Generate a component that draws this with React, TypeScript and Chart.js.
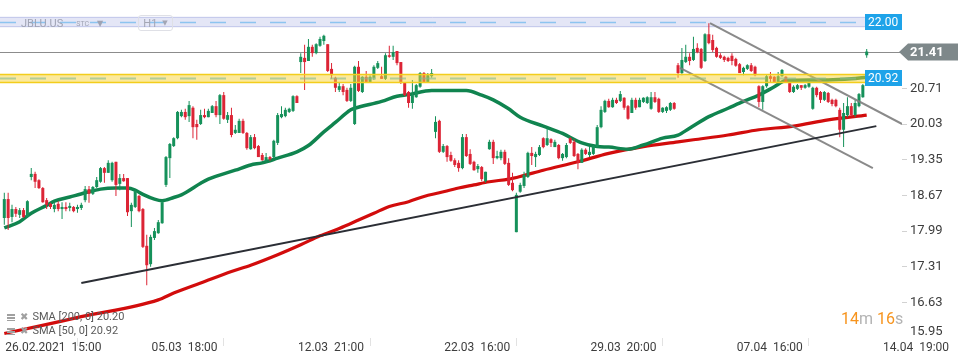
import React, { useEffect, useRef } from "react";
import { Chart, registerables } from "chart.js";

Chart.register(...registerables);

// ---------- candle data (H1) ----------
const OPEN = [
  18.24, 18.60, 18.26, 18.41, 18.30, 18.39, 18.26, 19.02, 19.08, 18.96,
  18.81, 18.58, 18.51, 18.41, 18.51, 18.41, 18.45, 18.43, 18.45, 18.41,
  18.43, 18.58, 18.79, 18.70, 18.83, 18.93, 19.19, 19.10, 18.96, 19.31,
  18.89, 19.00, 19.00, 18.37, 18.45, 18.66, 18.41, 17.71, 17.36, 17.86,
  17.95, 18.14, 18.87, 19.38, 19.61, 19.76, 20.18, 20.26, 20.18, 20.34,
  20.03, 20.03, 20.20, 20.16, 20.24, 20.37, 20.20, 20.58, 20.11, 20.20,
  19.86, 19.86, 20.09, 19.86, 19.55, 19.78, 19.61, 19.44, 19.34, 19.40,
  19.40, 19.67, 20.16, 20.18, 20.26, 20.28, 20.56, 21.21, 21.29, 21.23,
  21.50, 21.38, 21.52, 21.61, 21.55, 21.08, 20.91, 20.68, 20.75, 20.68,
  20.47, 20.03, 21.12, 20.64, 20.93, 20.83, 20.91, 21.10, 20.94, 20.89,
  21.34, 21.31, 21.42, 21.21, 20.81, 20.64, 20.43, 20.54, 20.74, 21.00,
  20.83, 20.94, 19.88, 20.09, 19.50, 19.61, 19.44, 19.34, 19.29, 19.19,
  19.78, 19.46, 19.31, 19.17, 19.21, 18.94, 19.55, 19.69, 19.38, 19.38,
  19.50, 19.29, 18.91, 17.97, 18.74, 18.85, 19.02, 19.48, 19.40, 19.44,
  19.76, 19.63, 19.74, 19.59, 19.63, 19.38, 19.40, 19.76, 19.69, 19.46,
  19.29, 19.54, 19.44, 19.46, 19.59, 19.97, 20.26, 20.47, 20.35, 20.49,
  20.47, 20.53, 20.37, 20.24, 20.49, 20.35, 20.45, 20.43, 20.32, 20.54,
  20.51, 20.26, 20.28, 20.30, 20.43, 21.15, 21.00, 21.21, 21.31, 21.25,
  21.48, 21.46, 21.23, 21.74, 21.63, 21.48, 21.34, 21.31, 21.29, 21.33,
  21.27, 21.17, 21.02, 21.08, 21.15, 21.12, 20.75, 20.45, 20.75, 20.94,
  20.93, 20.83, 20.94, 20.93, 20.81, 20.64, 20.70, 20.77, 20.72, 20.74,
  20.32, 20.72, 20.64, 20.49, 20.62, 20.49, 20.49, 20.30, 19.92, 20.20,
  20.37, 20.20, 20.37, 20.54, 21.34,
];
const HIGH = [
  18.72, 18.72, 18.49, 18.45, 18.43, 18.43, 18.58, 19.19, 19.12, 18.98,
  18.83, 18.62, 18.53, 18.54, 18.56, 18.54, 18.54, 18.53, 18.47, 18.49,
  18.53, 18.85, 18.85, 18.85, 19.02, 19.21, 19.21, 19.34, 19.31, 19.31,
  19.08, 19.08, 19.00, 18.53, 18.77, 18.68, 18.43, 17.92, 17.92, 18.05,
  18.20, 18.56, 19.42, 19.67, 19.78, 20.28, 20.30, 20.32, 20.47, 20.37,
  20.11, 20.30, 20.32, 20.32, 20.39, 20.47, 20.60, 20.64, 20.26, 20.34,
  20.01, 20.13, 20.13, 19.88, 19.82, 19.84, 19.63, 19.48, 19.48, 19.42,
  19.73, 20.24, 20.37, 20.34, 20.34, 20.58, 20.58, 21.38, 21.54, 21.65,
  21.54, 21.57, 21.69, 21.73, 21.55, 21.19, 20.93, 20.81, 20.79, 20.72,
  20.79, 21.14, 21.23, 20.94, 21.04, 20.96, 21.15, 21.23, 21.12, 21.38,
  21.52, 21.52, 21.42, 21.21, 20.83, 20.66, 20.87, 20.79, 21.02, 21.02,
  21.00, 21.08, 20.18, 20.11, 19.65, 19.63, 19.50, 19.38, 19.34, 19.84,
  19.84, 19.55, 19.33, 19.27, 19.23, 19.12, 19.73, 19.73, 19.52, 19.54,
  19.54, 19.38, 19.10, 18.72, 18.91, 19.12, 19.50, 19.59, 19.50, 19.63,
  19.78, 19.95, 19.76, 19.73, 19.65, 19.48, 19.67, 19.78, 19.74, 19.48,
  19.57, 19.57, 19.59, 19.63, 20.01, 20.37, 20.49, 20.51, 20.53, 20.53,
  20.66, 20.54, 20.39, 20.53, 20.53, 20.53, 20.54, 20.56, 20.64, 20.64,
  20.53, 20.35, 20.37, 20.45, 20.45, 21.19, 21.48, 21.54, 21.38, 21.69,
  21.57, 21.48, 21.76, 21.95, 21.73, 21.50, 21.38, 21.33, 21.31, 21.38,
  21.29, 21.19, 21.12, 21.17, 21.19, 21.14, 20.77, 20.77, 20.98, 21.02,
  20.94, 21.02, 21.08, 20.94, 20.81, 20.77, 20.79, 20.77, 20.79, 20.85,
  20.74, 20.74, 20.66, 20.66, 20.64, 20.51, 20.51, 20.34, 20.43, 20.54,
  20.43, 20.49, 20.62, 20.79, 21.46,
];
const LOW = [
  18.11, 18.01, 18.16, 18.26, 18.24, 18.24, 18.24, 18.96, 18.81, 18.79,
  18.53, 18.41, 18.41, 18.35, 18.37, 18.22, 18.37, 18.37, 18.35, 18.34,
  18.39, 18.54, 18.53, 18.68, 18.81, 18.91, 18.91, 19.10, 18.93, 18.66,
  18.77, 18.93, 18.28, 18.07, 18.43, 18.35, 17.67, 16.96, 17.31, 17.82,
  17.94, 18.13, 18.83, 19.00, 19.59, 19.74, 20.16, 20.11, 20.07, 19.76,
  19.73, 20.01, 20.14, 20.16, 20.24, 20.16, 20.03, 20.11, 20.05, 19.78,
  19.84, 19.86, 19.84, 19.54, 19.54, 19.55, 19.40, 19.33, 19.31, 19.33,
  19.38, 19.63, 20.14, 20.16, 20.24, 20.26, 20.43, 21.00, 20.68, 21.23,
  21.31, 21.36, 21.50, 21.54, 21.02, 20.89, 20.64, 20.64, 20.58, 20.45,
  20.45, 20.01, 20.64, 20.62, 20.81, 20.81, 20.87, 21.08, 20.89, 20.87,
  21.29, 21.25, 21.15, 20.79, 20.56, 20.34, 20.32, 20.53, 20.72, 20.81,
  20.81, 20.91, 19.76, 19.48, 19.48, 19.31, 19.31, 19.21, 19.12, 19.17,
  19.40, 19.25, 19.14, 19.10, 18.94, 18.91, 19.54, 19.27, 19.36, 19.34,
  19.25, 18.85, 18.75, 17.97, 18.72, 18.81, 19.00, 19.25, 19.21, 19.42,
  19.57, 19.61, 19.59, 19.59, 19.36, 19.33, 19.38, 19.65, 19.40, 19.17,
  19.29, 19.44, 19.40, 19.44, 19.59, 19.95, 20.24, 20.34, 20.34, 20.41,
  20.45, 20.30, 20.11, 20.24, 20.30, 20.35, 20.43, 20.41, 20.30, 20.43,
  20.24, 20.24, 20.24, 20.28, 20.30, 20.91, 20.96, 21.19, 21.15, 21.23,
  21.38, 21.08, 21.21, 21.55, 21.40, 21.29, 21.27, 21.21, 21.21, 21.15,
  21.12, 21.00, 20.96, 21.06, 21.02, 20.94, 20.35, 20.30, 20.72, 20.83,
  20.81, 20.81, 20.93, 20.81, 20.62, 20.62, 20.68, 20.68, 20.70, 20.72,
  20.30, 20.54, 20.43, 20.47, 20.43, 20.37, 20.35, 19.78, 19.59, 20.16,
  20.18, 20.16, 20.35, 20.53, 21.29,
];
const CLOSE = [
  18.60, 18.24, 18.41, 18.32, 18.39, 18.26, 18.56, 19.08, 18.93, 18.81,
  18.54, 18.49, 18.45, 18.49, 18.41, 18.45, 18.41, 18.47, 18.37, 18.45,
  18.49, 18.79, 18.70, 18.83, 18.96, 19.19, 19.10, 19.29, 19.29, 18.87,
  19.00, 18.94, 18.35, 18.49, 18.75, 18.37, 17.69, 17.34, 17.88, 17.99,
  18.16, 18.54, 19.40, 19.65, 19.76, 20.26, 20.26, 20.16, 20.39, 19.97,
  19.97, 20.20, 20.16, 20.28, 20.37, 20.20, 20.58, 20.13, 20.20, 19.82,
  19.92, 20.09, 19.86, 19.57, 19.78, 19.57, 19.40, 19.34, 19.40, 19.36,
  19.71, 20.20, 20.22, 20.30, 20.32, 20.56, 20.43, 21.31, 21.21, 21.50,
  21.38, 21.55, 21.65, 21.71, 21.04, 20.96, 20.72, 20.75, 20.64, 20.47,
  20.72, 21.12, 20.66, 20.93, 20.83, 20.93, 21.12, 21.19, 20.89, 21.34,
  21.31, 21.40, 21.19, 20.83, 20.58, 20.43, 20.58, 20.77, 21.00, 20.83,
  20.96, 21.00, 20.07, 19.50, 19.61, 19.40, 19.33, 19.25, 19.19, 19.78,
  19.42, 19.27, 19.15, 19.23, 18.98, 19.12, 19.69, 19.38, 19.42, 19.50,
  19.27, 18.87, 18.77, 18.68, 18.87, 19.06, 19.48, 19.42, 19.46, 19.59,
  19.59, 19.76, 19.67, 19.69, 19.38, 19.46, 19.63, 19.67, 19.42, 19.29,
  19.54, 19.46, 19.50, 19.61, 19.97, 20.30, 20.47, 20.35, 20.49, 20.43,
  20.60, 20.34, 20.13, 20.49, 20.34, 20.49, 20.53, 20.54, 20.54, 20.45,
  20.26, 20.34, 20.35, 20.43, 20.32, 21.00, 21.25, 21.31, 21.23, 21.46,
  21.40, 21.10, 21.74, 21.57, 21.44, 21.31, 21.29, 21.25, 21.23, 21.23,
  21.14, 21.00, 21.10, 21.15, 21.04, 20.96, 20.45, 20.75, 20.94, 20.89,
  20.83, 20.94, 21.06, 20.83, 20.64, 20.74, 20.77, 20.72, 20.77, 20.83,
  20.72, 20.58, 20.49, 20.64, 20.45, 20.41, 20.37, 19.92, 20.24, 20.37,
  20.20, 20.43, 20.60, 20.77, 21.41,
];

// ---------- moving averages (sampled at candle indices) ----------
const SMA50_IDX = [0, 4, 7, 11, 13, 17, 21, 25, 29, 32, 34, 36, 39, 41, 44, 46, 51, 53, 60, 64, 67, 71, 76, 79, 83, 86, 90, 91, 98, 102, 105, 111, 120, 124, 127, 131, 134, 140, 145, 150, 154, 157, 162, 166, 171, 175, 178, 183, 188, 192, 196, 200, 203, 209, 214, 220, 224];
const SMA50_VAL = [18.05, 18.17, 18.33, 18.48, 18.56, 18.64, 18.72, 18.79, 18.81, 18.81, 18.77, 18.69, 18.60, 18.57, 18.63, 18.68, 18.90, 18.98, 19.15, 19.25, 19.29, 19.38, 19.50, 19.62, 19.88, 20.06, 20.30, 20.33, 20.46, 20.56, 20.59, 20.67, 20.67, 20.58, 20.49, 20.32, 20.16, 19.99, 19.85, 19.67, 19.60, 19.59, 19.55, 19.63, 19.76, 19.82, 19.95, 20.17, 20.33, 20.46, 20.58, 20.74, 20.86, 20.87, 20.87, 20.89, 20.92];
const SMA200_IDX = [0, 9, 20, 40, 44, 51, 59, 64, 71, 77, 82, 87, 92, 96, 100, 105, 109, 113, 118, 122, 126, 131, 134, 140, 149, 157, 166, 175, 179, 188, 196, 205, 214, 224];
const SMA200_VAL = [16.04, 16.18, 16.36, 16.68, 16.81, 17.00, 17.22, 17.34, 17.54, 17.73, 17.90, 18.04, 18.20, 18.33, 18.46, 18.55, 18.65, 18.72, 18.81, 18.87, 18.93, 18.98, 19.03, 19.15, 19.31, 19.47, 19.60, 19.69, 19.73, 19.82, 19.92, 19.99, 20.11, 20.20];

// ---------- drawn lines ----------
const TREND_IDX = [20, 226.5];
const TREND_VAL = [17.0, 19.99];
const CHANNEL_UP_IDX = [183.3, 233.2];
const CHANNEL_UP_VAL = [21.95, 20.03];
const CHANNEL_DN_IDX = [175.5, 225.6];
const CHANNEL_DN_VAL = [21.1, 19.19];

// ---------- axes ----------
const X_TICK_IDX = [0, 38, 76, 114, 152, 190, 228];
const X_TICK_LABELS = ["26.02.2021  15:00", "05.03  18:00", "12.03  21:00", "22.03  16:00", "29.03  20:00", "07.04  16:00", "14.04  19:00"];
const Y_TICKS = [16.63, 17.31, 17.99, 18.67, 19.35, 20.03, 20.71];
const Y_BOTTOM_TICK = 15.95;

// ---------- levels ----------
const ALERT_LEVEL = 21.965;
const ALERT_TEXT = "22.00";
const LAST_PRICE = 21.41;
const LAST_TEXT = "21.41";
const ZONE_LEVEL = 20.897;
const ZONE_TEXT = "20.92";
const SMA200_TEXT = "SMA [200, 0] 20.20";
const SMA50_TEXT = "SMA [50, 0] 20.92";

const UP = "#15915a";
const DOWN = "#dc2435";

const pts = (xs: number[], ys: number[]) => xs.map((x, i) => ({ x, y: ys[i] }));

const levelsPlugin = {
  id: "levels",
  beforeDatasetsDraw(chart: any) {
    const { ctx, chartArea: a, scales } = chart;
    const y = scales.y;
    const boxLeft = a.right - 37;
    ctx.save();
    // alert band (lavender)
    const t = y.getPixelForValue(ALERT_LEVEL + 0.11);
    const b = y.getPixelForValue(ALERT_LEVEL - 0.095);
    ctx.fillStyle = "#e4e6f6";
    ctx.fillRect(a.left, t, boxLeft - a.left, b - t);
    ctx.strokeStyle = "#c6cbec";
    ctx.lineWidth = 1;
    ctx.beginPath();
    ctx.moveTo(a.left, Math.round(t) + 0.5);
    ctx.lineTo(boxLeft, Math.round(t) + 0.5);
    ctx.moveTo(a.left, Math.round(b) - 0.5);
    ctx.lineTo(boxLeft, Math.round(b) - 0.5);
    ctx.stroke();
    const ym = y.getPixelForValue(ALERT_LEVEL);
    ctx.strokeStyle = "#8cc4f0";
    ctx.lineWidth = 1.5;
    ctx.setLineDash([16, 14]);
    ctx.beginPath();
    ctx.moveTo(a.left, ym);
    ctx.lineTo(boxLeft, ym);
    ctx.stroke();
    ctx.setLineDash([]);
    // last price line
    const yl = Math.round(y.getPixelForValue(LAST_PRICE)) + 0.5;
    ctx.strokeStyle = "#8c8c8c";
    ctx.lineWidth = 1;
    ctx.beginPath();
    ctx.moveTo(a.left, yl);
    ctx.lineTo(a.right, yl);
    ctx.stroke();
    ctx.restore();
  },
  afterDatasetsDraw(chart: any) {
    const { ctx, chartArea: a, scales } = chart;
    const y = scales.y;
    const boxLeft = a.right - 37;
    ctx.save();
    const t = y.getPixelForValue(ZONE_LEVEL + 0.078);
    const b = y.getPixelForValue(ZONE_LEVEL - 0.078);
    ctx.fillStyle = "rgba(248, 212, 58, 0.5)";
    ctx.fillRect(a.left, t, boxLeft - a.left, b - t);
    ctx.strokeStyle = "#f3cd1c";
    ctx.lineWidth = 1.5;
    ctx.beginPath();
    ctx.moveTo(a.left, t);
    ctx.lineTo(boxLeft, t);
    ctx.moveTo(a.left, b);
    ctx.lineTo(boxLeft, b);
    ctx.stroke();
    const ym = y.getPixelForValue(ZONE_LEVEL);
    ctx.strokeStyle = "rgba(130, 185, 150, 0.6)";
    ctx.lineWidth = 2;
    ctx.setLineDash([16, 14]);
    ctx.beginPath();
    ctx.moveTo(a.left, ym);
    ctx.lineTo(boxLeft, ym);
    ctx.stroke();
    ctx.setLineDash([]);
    ctx.restore();
  },
  afterDraw(chart: any) {
    const { ctx, chartArea: a, scales } = chart;
    const y = scales.y;
    ctx.save();
    ctx.textBaseline = "middle";
    // blue label boxes
    const blue = (v: number, txt: string) => {
      const yc = y.getPixelForValue(v);
      ctx.fillStyle = "#1ea3e9";
      ctx.fillRect(a.right - 37, Math.round(yc - 8), 37, 16);
      ctx.fillStyle = "#ffffff";
      ctx.font = "12px Roboto, sans-serif";
      ctx.textAlign = "left";
      ctx.fillText(txt, a.right - 34, yc + 0.5);
    };
    blue(ALERT_LEVEL, ALERT_TEXT);
    blue(ZONE_LEVEL, ZONE_TEXT);
    // last price arrow box
    const yl = y.getPixelForValue(LAST_PRICE) + 0.5;
    const x0 = a.right - 3;
    ctx.fillStyle = "#7e888a";
    ctx.beginPath();
    ctx.moveTo(x0, yl);
    ctx.lineTo(x0 + 9, yl - 8.5);
    ctx.lineTo(958, yl - 8.5);
    ctx.lineTo(958, yl + 8.5);
    ctx.lineTo(x0 + 9, yl + 8.5);
    ctx.closePath();
    ctx.fill();
    ctx.fillStyle = "#ffffff";
    ctx.font = "bold 13px Roboto, sans-serif";
    ctx.fillText(LAST_TEXT, a.right + 8, yl + 0.5);
    // bottom tick label, clamped inside the axis like the terminal does
    const yb = Math.min(y.getPixelForValue(Y_BOTTOM_TICK), a.bottom - 6);
    ctx.fillStyle = "#3d3d3d";
    ctx.font = "13px Roboto, sans-serif";
    ctx.fillText(Y_BOTTOM_TICK.toFixed(2), a.right + 8, yb);
    ctx.restore();
  },
};

export default function App() {
  const ref = useRef<HTMLCanvasElement | null>(null);

  useEffect(() => {
    document.body.style.margin = "0";
    const colors = OPEN.map((o, i) => (CLOSE[i] >= o ? UP : DOWN));
    const chart = new Chart(ref.current as HTMLCanvasElement, {
      type: "bar",
      data: {
        datasets: [
          {
            type: "line",
            data: pts(TREND_IDX, TREND_VAL),
            borderColor: "#2b2e35",
            borderWidth: 2,
            pointRadius: 0,
            order: -3,
          } as any,
          {
            type: "line",
            data: pts(CHANNEL_UP_IDX, CHANNEL_UP_VAL),
            borderColor: "rgba(125,125,125,0.9)",
            borderWidth: 2,
            pointRadius: 0,
            order: -3,
          } as any,
          {
            type: "line",
            data: pts(CHANNEL_DN_IDX, CHANNEL_DN_VAL),
            borderColor: "rgba(125,125,125,0.9)",
            borderWidth: 2,
            pointRadius: 0,
            order: -3,
          } as any,
          {
            type: "bar",
            data: OPEN.map((o, i) => ({ x: i, y: [o, CLOSE[i]] })),
            backgroundColor: colors,
            borderWidth: 0,
            barThickness: 3,
            minBarLength: 1,
            grouped: false,
            inflateAmount: 0,
            order: 0,
          } as any,
          {
            type: "bar",
            data: LOW.map((l, i) => ({ x: i, y: [l, HIGH[i]] })),
            backgroundColor: colors,
            borderWidth: 0,
            barThickness: 1,
            grouped: false,
            inflateAmount: 0,
            order: 1,
          } as any,
          {
            type: "line",
            data: pts(SMA50_IDX, SMA50_VAL),
            borderColor: "#10844f",
            borderWidth: 3.5,
            pointRadius: 0,
            cubicInterpolationMode: "monotone",
            order: 3,
          } as any,
          {
            type: "line",
            data: pts(SMA200_IDX, SMA200_VAL),
            borderColor: "#d20c0c",
            borderWidth: 3.2,
            pointRadius: 0,
            cubicInterpolationMode: "monotone",
            order: 3,
          } as any,
        ],
      },
      options: {
        responsive: false,
        animation: false,
        events: [],
        layout: { padding: 0 },
        plugins: { legend: { display: false }, tooltip: { enabled: false } },
        scales: {
          x: {
            type: "linear",
            min: -1.117,
            max: 233.17,
            offset: false,
            border: { display: false },
            grid: { display: true, drawOnChartArea: false, drawTicks: true, tickLength: 8, color: "#e2e2e2" },
            ticks: {
              autoSkip: false,
              maxRotation: 0,
              minRotation: 0,
              align: "start",
              labelOffset: 1,
              padding: -5,
              color: "#3d3d3d",
              font: { family: "Roboto, sans-serif", size: 12 },
              callback: (v: any) => {
                const k = X_TICK_IDX.indexOf(Number(v));
                return k >= 0 ? X_TICK_LABELS[k] : "";
              },
            },
            afterBuildTicks: (s: any) => {
              s.ticks = X_TICK_IDX.map((v) => ({ value: v }));
            },
            afterFit: (s: any) => {
              s.height = 26;
              s.paddingLeft = 0;
              s.paddingRight = 0;
            },
          } as any,
          y: {
            type: "linear",
            position: "right",
            min: 15.954,
            max: 22.392,
            border: { display: false },
            grid: { drawOnChartArea: false, drawTicks: true, tickLength: 5, color: "#d2d2d2" },
            ticks: {
              padding: 3,
              color: "#3d3d3d",
              font: { family: "Roboto, sans-serif", size: 13 },
              callback: (v: any) => Number(v).toFixed(2),
            },
            afterBuildTicks: (s: any) => {
              s.ticks = Y_TICKS.map((v) => ({ value: v }));
            },
            afterFit: (s: any) => {
              s.width = 68;
              s.paddingTop = 0;
              s.paddingBottom = 0;
            },
          } as any,
        },
      },
      plugins: [levelsPlugin as any],
    });
    return () => chart.destroy();
  }, []);

  const iconStack: React.CSSProperties = {
    display: "inline-block",
    width: 8,
    height: 7,
    marginRight: 5,
    background: "linear-gradient(#a0a0a0 0 2px, transparent 2px 3px, #a0a0a0 3px 5px, transparent 5px 6px, #a0a0a0 6px 7px)",
  };
  const iconX: React.CSSProperties = { color: "#a0a0a0", fontSize: 10, marginRight: 4, fontFamily: "DejaVu Sans, sans-serif" };

  return (
    <div style={{ position: "fixed", left: 0, top: 0, width: 970, height: 364, background: "#ffffff", fontFamily: "Roboto, sans-serif", overflow: "hidden" }}>
      <canvas ref={ref} width={970} height={364} style={{ display: "block" }} />
      <div style={{ position: "absolute", left: 21, top: 15, height: 16, display: "flex", alignItems: "center", color: "#9fa3b3", fontSize: 11, pointerEvents: "none" }}>
        <span>JBLU.US</span>
        <span style={{ fontSize: 7, marginLeft: 13, marginTop: 2 }}>STC</span>
        <span style={{ fontSize: 8, marginLeft: 8, fontFamily: "DejaVu Sans, sans-serif" }}>▼</span>
      </div>
      <div style={{ position: "absolute", left: 138, top: 15, width: 35, height: 16, border: "1px solid #dfe0e6", borderRadius: 3, boxSizing: "border-box", display: "flex", alignItems: "center", justifyContent: "center", color: "#a3a6b4", fontSize: 11 }}>
        <span>H1</span>
        <span style={{ fontSize: 7, marginLeft: 5, fontFamily: "DejaVu Sans, sans-serif" }}>▼</span>
      </div>
      <div style={{ position: "absolute", left: 7, top: 310, fontSize: 11, lineHeight: "14px", color: "#5a5a5a" }}>
        <div style={{ display: "flex", alignItems: "center" }}>
          <span style={iconStack} />
          <span style={iconX}>✖</span>
          <span>{SMA200_TEXT}</span>
        </div>
        <div style={{ display: "flex", alignItems: "center" }}>
          <span style={iconStack} />
          <span style={iconX}>✖</span>
          <span>{SMA50_TEXT}</span>
        </div>
      </div>
      <div style={{ position: "absolute", left: 841, top: 309, fontSize: 16, lineHeight: "20px", whiteSpace: "pre" }}>
        <span style={{ color: "#f7941d" }}>14</span>
        <span style={{ color: "#b3b3b3" }}>m </span>
        <span style={{ color: "#f7941d" }}>16</span>
        <span style={{ color: "#b3b3b3" }}>s</span>
      </div>
    </div>
  );
}
